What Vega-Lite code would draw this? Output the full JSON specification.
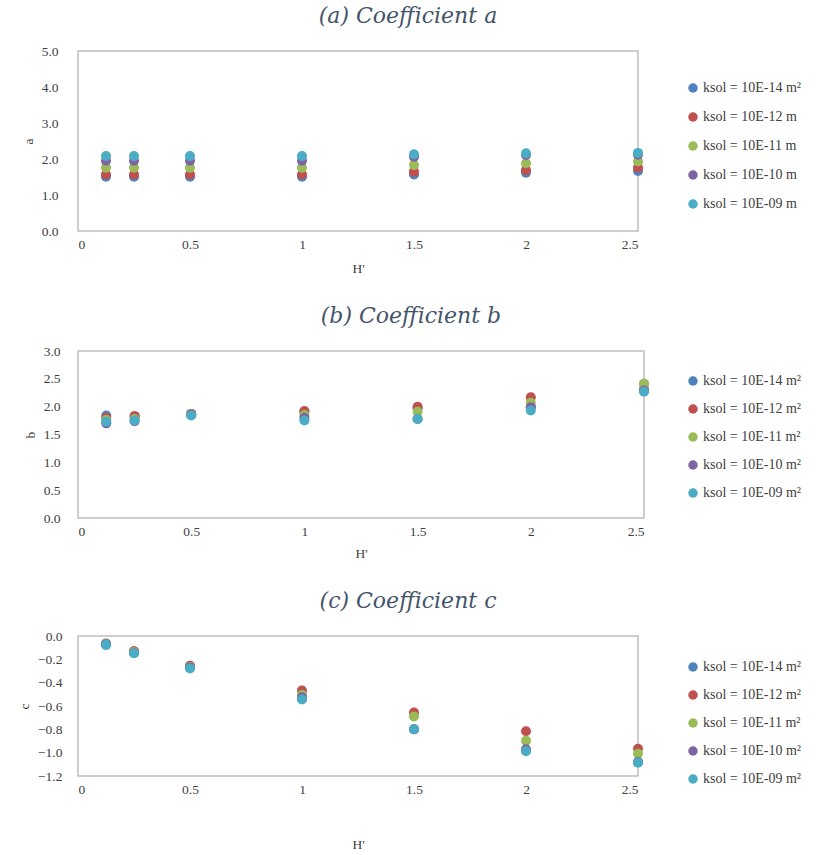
{
  "$schema": "https://vega.github.io/schema/vega-lite/v6.json",
  "padding": {"left": 16, "top": 4, "right": 0, "bottom": 0},
  "background": "white",
  "spacing": 28,
  "config": {
    "font": "Liberation Serif",
    "view": {"stroke": "#bfbfbf", "strokeWidth": 1.5},
    "axis": {"grid": false, "domain": false, "ticks": false, "labelFont": "Liberation Serif", "labelFontSize": 13.5, "labelColor": "#404040", "titleFont": "Liberation Serif", "titleFontSize": 13.5, "titleFontWeight": "normal", "titleColor": "#404040"},
    "legend": {"labelFont": "Liberation Serif", "labelFontSize": 14, "labelColor": "#404040", "symbolType": "circle", "symbolSize": 90, "symbolStrokeWidth": 0, "labelLimit": 200, "labelOffset": 3},
    "title": {"font": "DejaVu Serif", "fontStyle": "italic", "fontWeight": "normal", "fontSize": 22, "color": "#44546a", "offset": 16, "dx": 50}
  },
  "datasets": {
    "a": [
      {"H": 0.125, "s": "ksol = 10E-14 m²", "v": 1.51}, {"H": 0.25, "s": "ksol = 10E-14 m²", "v": 1.51}, {"H": 0.5, "s": "ksol = 10E-14 m²", "v": 1.51}, {"H": 1, "s": "ksol = 10E-14 m²", "v": 1.51}, {"H": 1.5, "s": "ksol = 10E-14 m²", "v": 1.57}, {"H": 2, "s": "ksol = 10E-14 m²", "v": 1.62}, {"H": 2.5, "s": "ksol = 10E-14 m²", "v": 1.67},
      {"H": 0.125, "s": "ksol = 10E-12 m", "v": 1.57}, {"H": 0.25, "s": "ksol = 10E-12 m", "v": 1.57}, {"H": 0.5, "s": "ksol = 10E-12 m", "v": 1.57}, {"H": 1, "s": "ksol = 10E-12 m", "v": 1.57}, {"H": 1.5, "s": "ksol = 10E-12 m", "v": 1.65}, {"H": 2, "s": "ksol = 10E-12 m", "v": 1.69}, {"H": 2.5, "s": "ksol = 10E-12 m", "v": 1.76},
      {"H": 0.125, "s": "ksol = 10E-11 m", "v": 1.76}, {"H": 0.25, "s": "ksol = 10E-11 m", "v": 1.76}, {"H": 0.5, "s": "ksol = 10E-11 m", "v": 1.76}, {"H": 1, "s": "ksol = 10E-11 m", "v": 1.76}, {"H": 1.5, "s": "ksol = 10E-11 m", "v": 1.83}, {"H": 2, "s": "ksol = 10E-11 m", "v": 1.88}, {"H": 2.5, "s": "ksol = 10E-11 m", "v": 1.93},
      {"H": 0.125, "s": "ksol = 10E-10 m", "v": 1.95}, {"H": 0.25, "s": "ksol = 10E-10 m", "v": 1.95}, {"H": 0.5, "s": "ksol = 10E-10 m", "v": 1.95}, {"H": 1, "s": "ksol = 10E-10 m", "v": 1.95}, {"H": 1.5, "s": "ksol = 10E-10 m", "v": 2.06}, {"H": 2, "s": "ksol = 10E-10 m", "v": 2.11}, {"H": 2.5, "s": "ksol = 10E-10 m", "v": 2.12},
      {"H": 0.125, "s": "ksol = 10E-09 m", "v": 2.08}, {"H": 0.25, "s": "ksol = 10E-09 m", "v": 2.08}, {"H": 0.5, "s": "ksol = 10E-09 m", "v": 2.08}, {"H": 1, "s": "ksol = 10E-09 m", "v": 2.08}, {"H": 1.5, "s": "ksol = 10E-09 m", "v": 2.13}, {"H": 2, "s": "ksol = 10E-09 m", "v": 2.16}, {"H": 2.5, "s": "ksol = 10E-09 m", "v": 2.17}
    ],
    "b": [
      {"H": 0.125, "s": "ksol = 10E-14 m²", "v": 1.84}, {"H": 0.25, "s": "ksol = 10E-14 m²", "v": 1.83}, {"H": 0.5, "s": "ksol = 10E-14 m²", "v": 1.87}, {"H": 1, "s": "ksol = 10E-14 m²", "v": 1.91}, {"H": 1.5, "s": "ksol = 10E-14 m²", "v": 1.97}, {"H": 2, "s": "ksol = 10E-14 m²", "v": 2.0}, {"H": 2.5, "s": "ksol = 10E-14 m²", "v": 2.41},
      {"H": 0.125, "s": "ksol = 10E-12 m²", "v": 1.8}, {"H": 0.25, "s": "ksol = 10E-12 m²", "v": 1.83}, {"H": 0.5, "s": "ksol = 10E-12 m²", "v": 1.87}, {"H": 1, "s": "ksol = 10E-12 m²", "v": 1.92}, {"H": 1.5, "s": "ksol = 10E-12 m²", "v": 2.0}, {"H": 2, "s": "ksol = 10E-12 m²", "v": 2.17}, {"H": 2.5, "s": "ksol = 10E-12 m²", "v": 2.31},
      {"H": 0.125, "s": "ksol = 10E-11 m²", "v": 1.76}, {"H": 0.25, "s": "ksol = 10E-11 m²", "v": 1.78}, {"H": 0.5, "s": "ksol = 10E-11 m²", "v": 1.86}, {"H": 1, "s": "ksol = 10E-11 m²", "v": 1.85}, {"H": 1.5, "s": "ksol = 10E-11 m²", "v": 1.91}, {"H": 2, "s": "ksol = 10E-11 m²", "v": 2.07}, {"H": 2.5, "s": "ksol = 10E-11 m²", "v": 2.41},
      {"H": 0.125, "s": "ksol = 10E-10 m²", "v": 1.7}, {"H": 0.25, "s": "ksol = 10E-10 m²", "v": 1.74}, {"H": 0.5, "s": "ksol = 10E-10 m²", "v": 1.85}, {"H": 1, "s": "ksol = 10E-10 m²", "v": 1.8}, {"H": 1.5, "s": "ksol = 10E-10 m²", "v": 1.78}, {"H": 2, "s": "ksol = 10E-10 m²", "v": 1.99}, {"H": 2.5, "s": "ksol = 10E-10 m²", "v": 2.29},
      {"H": 0.125, "s": "ksol = 10E-09 m²", "v": 1.73}, {"H": 0.25, "s": "ksol = 10E-09 m²", "v": 1.75}, {"H": 0.5, "s": "ksol = 10E-09 m²", "v": 1.84}, {"H": 1, "s": "ksol = 10E-09 m²", "v": 1.75}, {"H": 1.5, "s": "ksol = 10E-09 m²", "v": 1.78}, {"H": 2, "s": "ksol = 10E-09 m²", "v": 1.93}, {"H": 2.5, "s": "ksol = 10E-09 m²", "v": 2.27}
    ],
    "c": [
      {"H": 0.125, "s": "ksol = 10E-14 m²", "v": -0.065}, {"H": 0.25, "s": "ksol = 10E-14 m²", "v": -0.13}, {"H": 0.5, "s": "ksol = 10E-14 m²", "v": -0.26}, {"H": 1, "s": "ksol = 10E-14 m²", "v": -0.53}, {"H": 1.5, "s": "ksol = 10E-14 m²", "v": -0.8}, {"H": 2, "s": "ksol = 10E-14 m²", "v": -0.98}, {"H": 2.5, "s": "ksol = 10E-14 m²", "v": -1.08},
      {"H": 0.125, "s": "ksol = 10E-12 m²", "v": -0.068}, {"H": 0.25, "s": "ksol = 10E-12 m²", "v": -0.13}, {"H": 0.5, "s": "ksol = 10E-12 m²", "v": -0.255}, {"H": 1, "s": "ksol = 10E-12 m²", "v": -0.468}, {"H": 1.5, "s": "ksol = 10E-12 m²", "v": -0.656}, {"H": 2, "s": "ksol = 10E-12 m²", "v": -0.816}, {"H": 2.5, "s": "ksol = 10E-12 m²", "v": -0.967},
      {"H": 0.125, "s": "ksol = 10E-11 m²", "v": -0.07}, {"H": 0.25, "s": "ksol = 10E-11 m²", "v": -0.14}, {"H": 0.5, "s": "ksol = 10E-11 m²", "v": -0.265}, {"H": 1, "s": "ksol = 10E-11 m²", "v": -0.505}, {"H": 1.5, "s": "ksol = 10E-11 m²", "v": -0.69}, {"H": 2, "s": "ksol = 10E-11 m²", "v": -0.897}, {"H": 2.5, "s": "ksol = 10E-11 m²", "v": -1.01},
      {"H": 0.125, "s": "ksol = 10E-10 m²", "v": -0.072}, {"H": 0.25, "s": "ksol = 10E-10 m²", "v": -0.145}, {"H": 0.5, "s": "ksol = 10E-10 m²", "v": -0.27}, {"H": 1, "s": "ksol = 10E-10 m²", "v": -0.525}, {"H": 1.5, "s": "ksol = 10E-10 m²", "v": -0.8}, {"H": 2, "s": "ksol = 10E-10 m²", "v": -0.971}, {"H": 2.5, "s": "ksol = 10E-10 m²", "v": -1.08},
      {"H": 0.125, "s": "ksol = 10E-09 m²", "v": -0.078}, {"H": 0.25, "s": "ksol = 10E-09 m²", "v": -0.148}, {"H": 0.5, "s": "ksol = 10E-09 m²", "v": -0.278}, {"H": 1, "s": "ksol = 10E-09 m²", "v": -0.544}, {"H": 1.5, "s": "ksol = 10E-09 m²", "v": -0.8}, {"H": 2, "s": "ksol = 10E-09 m²", "v": -0.988}, {"H": 2.5, "s": "ksol = 10E-09 m²", "v": -1.086}
    ]
  },
  "vconcat": [
    {
      "title": "(a) Coefficient a",
      "width": 560, "height": 180,
      "data": {"name": "a"},
      "mark": {"type": "point", "filled": true, "opacity": 1, "size": 100},
      "encoding": {
        "x": {"field": "H", "type": "quantitative", "title": "H'", "scale": {"domain": [0, 2.5]}, "axis": {"values": [0, 0.5, 1, 1.5, 2, 2.5], "format": "~g", "labelPadding": 6, "titlePadding": 11}},
        "y": {"field": "v", "type": "quantitative", "title": "a", "scale": {"domain": [0, 5]}, "axis": {"values": [0, 1, 2, 3, 4, 5], "format": ".1f", "labelPadding": 20, "titlePadding": 6}},
        "color": {"field": "s", "type": "nominal", "sort": null, "scale": {"domain": ["ksol = 10E-14 m²", "ksol = 10E-12 m", "ksol = 10E-11 m", "ksol = 10E-10 m", "ksol = 10E-09 m"], "range": ["#4f81bd", "#c0504d", "#9bbb59", "#8064a2", "#4bacc6"]}, "legend": {"title": null, "orient": "none", "legendX": 608, "legendY": 30, "rowPadding": 15}}
      }
    },
    {
      "title": "(b) Coefficient b",
      "width": 566, "height": 167,
      "data": {"name": "b"},
      "mark": {"type": "point", "filled": true, "opacity": 1, "size": 100},
      "encoding": {
        "x": {"field": "H", "type": "quantitative", "title": "H'", "scale": {"domain": [0, 2.5]}, "axis": {"values": [0, 0.5, 1, 1.5, 2, 2.5], "format": "~g", "labelPadding": 6, "titlePadding": 9}},
        "y": {"field": "v", "type": "quantitative", "title": "b", "scale": {"domain": [0, 3]}, "axis": {"values": [0, 0.5, 1, 1.5, 2, 2.5, 3], "format": ".1f", "labelPadding": 18, "titlePadding": 6}},
        "color": {"field": "s", "type": "nominal", "sort": null, "scale": {"domain": ["ksol = 10E-14 m²", "ksol = 10E-12 m²", "ksol = 10E-11 m²", "ksol = 10E-10 m²", "ksol = 10E-09 m²"], "range": ["#4f81bd", "#c0504d", "#9bbb59", "#8064a2", "#4bacc6"]}, "legend": {"title": null, "orient": "none", "legendX": 608, "legendY": 23, "rowPadding": 14}}
      }
    },
    {
      "title": "(c) Coefficient c",
      "width": 560, "height": 140,
      "data": {"name": "c"},
      "mark": {"type": "point", "filled": true, "opacity": 1, "size": 100},
      "encoding": {
        "x": {"field": "H", "type": "quantitative", "title": "H'", "scale": {"domain": [0, 2.5]}, "axis": {"values": [0, 0.5, 1, 1.5, 2, 2.5], "format": "~g", "labelPadding": 6, "titlePadding": 42}},
        "y": {"field": "v", "type": "quantitative", "title": "c", "scale": {"domain": [-1.2, 0]}, "axis": {"values": [-1.2, -1, -0.8, -0.6, -0.4, -0.2, 0], "format": ".1f", "labelPadding": 16, "titlePadding": 6}},
        "color": {"field": "s", "type": "nominal", "sort": null, "scale": {"domain": ["ksol = 10E-14 m²", "ksol = 10E-12 m²", "ksol = 10E-11 m²", "ksol = 10E-10 m²", "ksol = 10E-09 m²"], "range": ["#4f81bd", "#c0504d", "#9bbb59", "#8064a2", "#4bacc6"]}, "legend": {"title": null, "orient": "none", "legendX": 608, "legendY": 24, "rowPadding": 14}}
      }
    }
  ],
  "resolve": {"scale": {"color": "independent"}, "legend": {"color": "independent"}}
}
